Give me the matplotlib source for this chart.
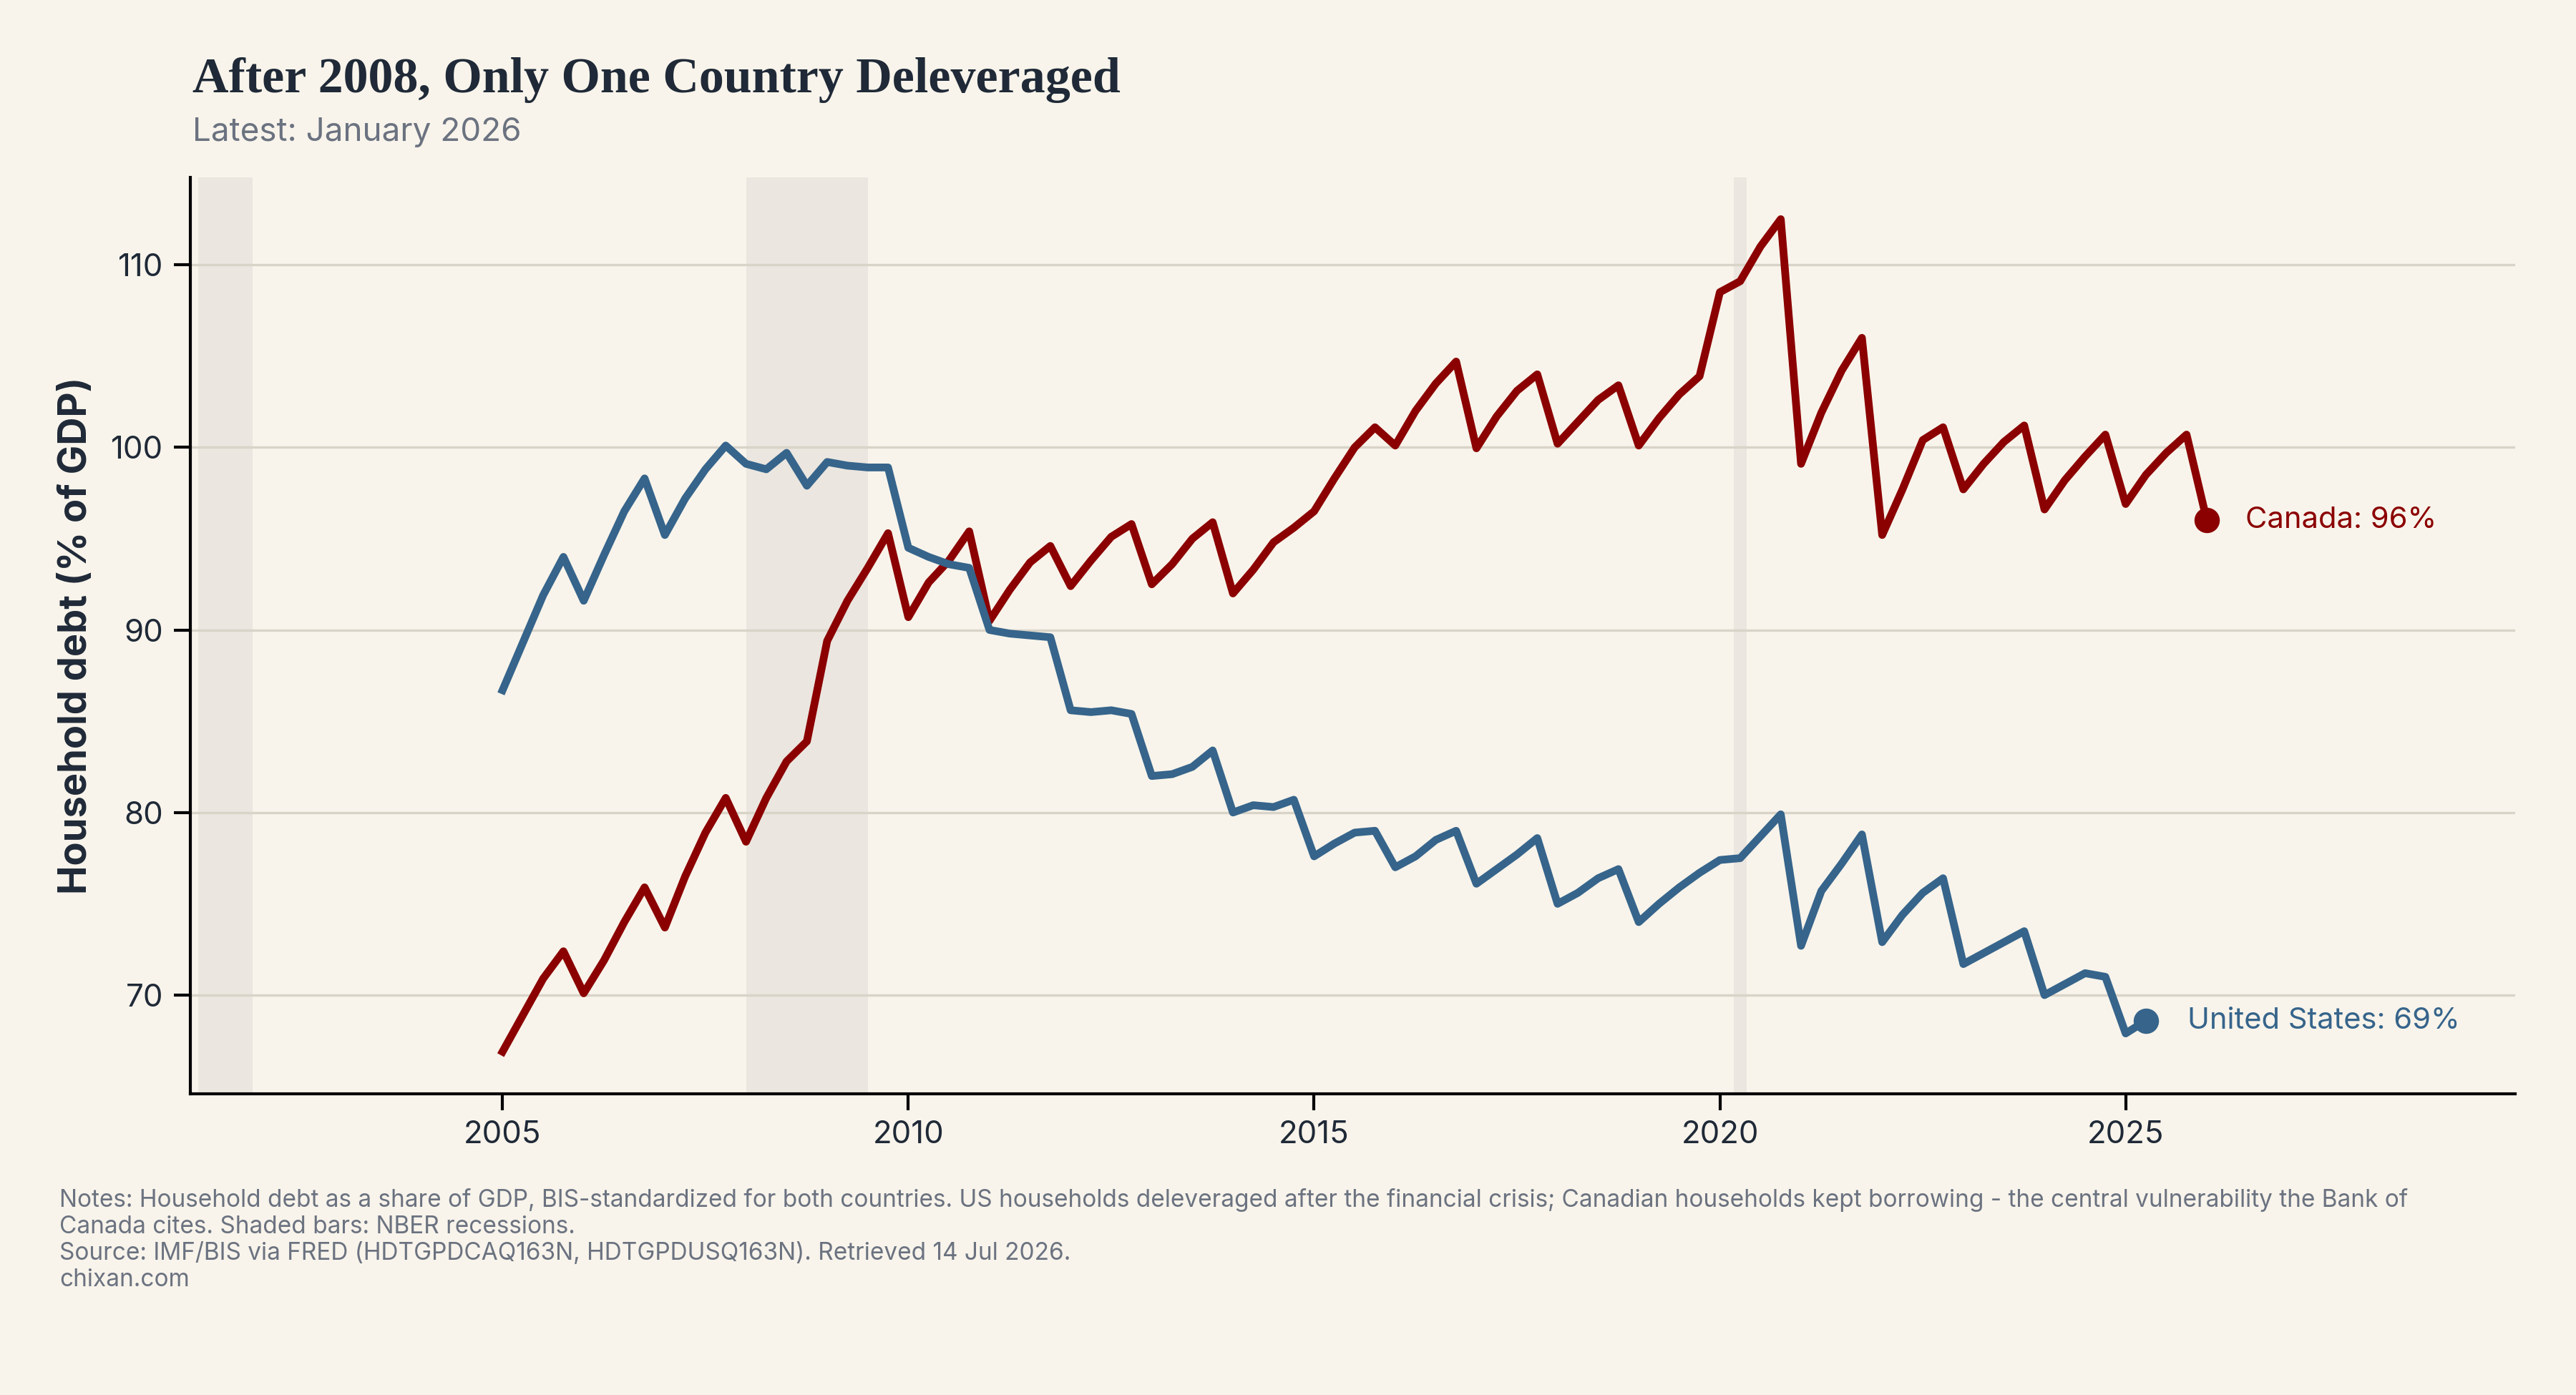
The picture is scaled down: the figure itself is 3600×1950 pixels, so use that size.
import numpy as np
import matplotlib
matplotlib.use("Agg")
import matplotlib.pyplot as plt

# household debt, % of GDP, quarterly from 2005 Q1
canada = [66.9, 68.9, 70.9, 72.4,
          70.1, 71.9, 74.0, 75.9,
          73.7, 76.5, 78.9, 80.8,
          78.4, 80.8, 82.8, 83.9,
          89.4, 91.6, 93.4, 95.3,
          90.7, 92.6, 93.8, 95.4,
          90.5, 92.2, 93.7, 94.6,
          92.4, 93.8, 95.1, 95.8,
          92.5, 93.6, 95.0, 95.9,
          92.0, 93.3, 94.8, 95.6,
          96.5, 98.3, 100.0, 101.1,
          100.1, 102.0, 103.5, 104.7,
          99.95, 101.7, 103.1, 104.0,
          100.2, 101.4, 102.6, 103.4,
          100.1, 101.6, 102.9, 103.9,
          108.5, 109.1, 111.0, 112.5,
          99.1, 101.9, 104.2, 106.0,
          95.2, 97.7, 100.4, 101.1,
          97.7, 99.1, 100.3, 101.2,
          96.6, 98.2, 99.5, 100.7,
          96.9, 98.5, 99.7, 100.7,
          96.0]
us = [86.7, 89.3, 91.9, 94.0,
      91.6, 94.1, 96.5, 98.3,
      95.2, 97.2, 98.8, 100.1,
      99.1, 98.8, 99.7, 97.9,
      99.2, 99.0, 98.9, 98.9,
      94.5, 94.0, 93.6, 93.4,
      90.0, 89.8, 89.7, 89.6,
      85.6, 85.5, 85.6, 85.4,
      82.0, 82.1, 82.5, 83.4,
      80.0, 80.4, 80.3, 80.7,
      77.6, 78.3, 78.9, 79.0,
      77.0, 77.6, 78.5, 79.0,
      76.1, 76.9, 77.7, 78.6,
      75.0, 75.6, 76.4, 76.9,
      74.0, 75.0, 75.9, 76.7,
      77.4, 77.5, 78.7, 79.9,
      72.7, 75.7, 77.2, 78.8,
      72.9, 74.4, 75.6, 76.4,
      71.7, 72.3, 72.9, 73.5,
      70.0, 70.6, 71.2, 71.0,
      67.9, 68.6]
start_year = 2005
recessions = [(2001.25, 2001.92), (2008.0, 2009.5), (2020.17, 2020.33)]
xticks = [2005, 2010, 2015, 2020, 2025]
yticks = [70, 80, 90, 100, 110]

BG = '#f8f4eb'
RED = '#8b0000'
BLUE = '#36648b'
INK = '#1f2937'
GRAY = '#6b7280'

plt.rcParams['font.family'] = ['Inter', 'DejaVu Sans']

t_ca = start_year + np.arange(len(canada)) * 0.25
t_us = start_year + np.arange(len(us)) * 0.25

fig = plt.figure(figsize=(12, 6.5), dpi=300, facecolor=BG)
ax = fig.add_axes([0.0738, 0.216, 0.9026, 0.657])
ax.set_facecolor(BG)

for a, b in recessions:
    ax.axvspan(a, b, color='#ebe6df', lw=0, zorder=0.2)
ax.grid(axis='y', color='#d9d4c8', lw=0.8, zorder=0.5)

ax.plot(t_ca, canada, color=RED, lw=2.6, zorder=3, solid_joinstyle='round')
ax.plot(t_us, us, color=BLUE, lw=2.6, zorder=3, solid_joinstyle='round')
ax.plot(t_ca[-1], canada[-1], 'o', color=RED, ms=7.5, zorder=4)
ax.plot(t_us[-1], us[-1], 'o', color=BLUE, ms=7.5, zorder=4)
ax.annotate(f'Canada: {canada[-1]:.0f}%', (t_ca[-1], canada[-1]), xytext=(13, 0),
            textcoords='offset points', va='center', ha='left', color=RED, fontsize=10)
ax.annotate(f'United States: {us[-1]:.0f}%', (t_us[-1], us[-1]), xytext=(14, 0),
            textcoords='offset points', va='center', ha='left', color=BLUE, fontsize=10)

ax.set_xlim(2001.15, 2029.8)
ax.set_ylim(64.6, 114.8)
ax.set_xticks(xticks)
ax.set_yticks(yticks)
ax.tick_params(labelsize=10.5, labelcolor=INK, length=5.5, width=1)
for s in ['top', 'right']:
    ax.spines[s].set_visible(False)
for s in ['left', 'bottom']:
    ax.spines[s].set_linewidth(1.0)
ax.set_ylabel('Household debt (% of GDP)', fontsize=13, fontweight='bold', color=INK)
ax.yaxis.set_label_coords(-0.041, 0.5)

fig.text(0.0746, 0.934, 'After 2008, Only One Country Deleveraged', fontsize=16.8,
         fontweight='bold', color=INK, family=['Liberation Serif'])
fig.text(0.0746, 0.899, 'Latest: January 2026', fontsize=11, color=GRAY)

notes = ("Notes: Household debt as a share of GDP, BIS-standardized for both countries. "
         "US households deleveraged after the financial crisis; Canadian households kept borrowing - "
         "the central vulnerability the Bank of\nCanada cites. Shaded bars: NBER recessions.\n"
         "Source: IMF/BIS via FRED (HDTGPDCAQ163N, HDTGPDUSQ163N). Retrieved 14 Jul 2026.\n"
         "chixan.com")
fig.text(0.023, 0.148, notes, fontsize=8, color=GRAY, va='top', linespacing=1.2)

fig.savefig('out.png', dpi=300, facecolor=BG)
